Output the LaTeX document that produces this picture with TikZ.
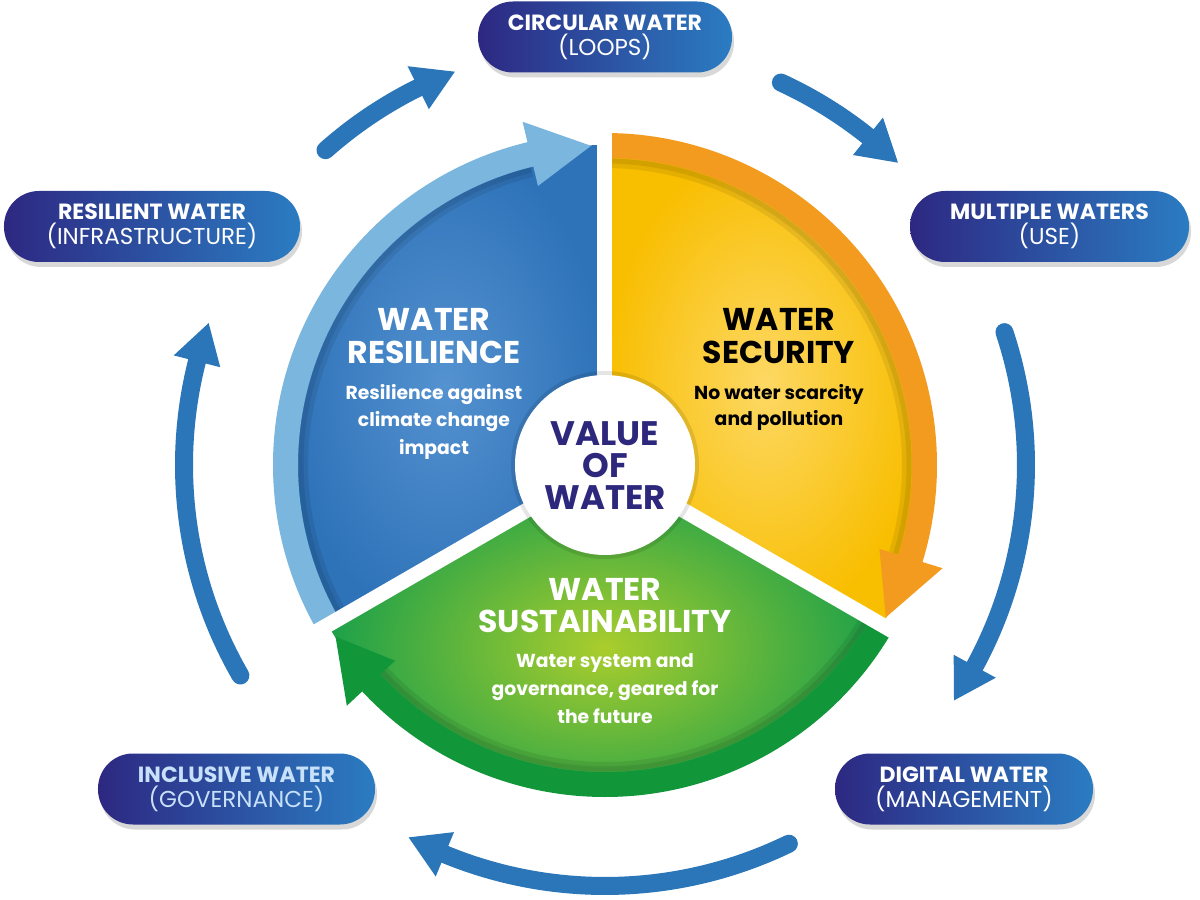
\documentclass[tikz,border=0pt]{standalone}
\usepackage{fontspec}
\setmainfont{Poppins}
\usetikzlibrary{shadows}
\definecolor{pillL}{RGB}{45,40,130}
\definecolor{pillR}{RGB}{43,124,194}
\definecolor{cycblue}{RGB}{43,118,184}
\definecolor{bandblue}{RGB}{122,182,222}
\definecolor{bandorange}{RGB}{243,155,30}
\definecolor{bandgreen}{RGB}{18,150,58}
\definecolor{blueout}{RGB}{46,114,184}
\definecolor{bluein}{RGB}{84,146,208}
\definecolor{yelout}{RGB}{248,190,0}
\definecolor{yelin}{RGB}{253,216,100}
\definecolor{grnout}{RGB}{28,160,74}
\definecolor{grnin}{RGB}{170,205,45}
\definecolor{centertext}{RGB}{46,40,125}
\definecolor{incltext}{RGB}{200,225,250}
\begin{document}
\begin{tikzpicture}[x=1pt,y=1pt,
  pill/.style={rounded corners=35pt, minimum height=71pt, inner sep=0pt,
    left color=pillL, right color=pillR, draw=none, text=white, align=center,
    font=\fontsize{22}{25}\selectfont,
    drop shadow={shadow xshift=2pt,shadow yshift=-5pt,opacity=0.3}},
  cyc/.style={draw=cycblue, line width=18pt, line cap=round},
  cychead/.style={fill=cycblue},
  band/.style={line width=25pt},
  bandshadow/.style={line width=10pt, draw=black, opacity=0.08},
  bandshadowB/.style={line width=5pt, draw=black, opacity=0.08},
  gap/.style={draw=white, line width=15pt},
  seghead/.style={font=\fontsize{31.5}{31.5}\selectfont\bfseries, anchor=base},
  segbody/.style={font=\fontsize{18.8}{18.8}\selectfont\bfseries, anchor=base},
  centre/.style={font=\fontsize{34}{34}\selectfont\bfseries, anchor=base, text=centertext}
]
\useasboundingbox (-605,-435) rectangle (595,465);
\fill[white] (-605,-435) rectangle (595,465);

% ---- segments
\shade[inner color=bluein, outer color=blueout] (0,0) -- (90:320) arc[start angle=90,end angle=210,radius=320] -- cycle;
\shade[inner color=yelin, outer color=yelout] (0,0) -- (90:320) arc[start angle=90,end angle=-30,radius=320] -- cycle;
\shade[inner color=grnin, outer color=grnout] (0,0) -- (210:320) arc[start angle=210,end angle=330,radius=320] -- cycle;

% ---- band shadows
\draw[bandshadow] (210:302) arc[start angle=210,end angle=104,radius=302];
\draw[bandshadowB] (210:304) arc[start angle=210,end angle=104,radius=304];
\draw[bandshadow] (90:302) arc[start angle=90,end angle=-17,radius=302];
\draw[bandshadowB] (90:304) arc[start angle=90,end angle=-17,radius=304];
\draw[bandshadow] (330:302) arc[start angle=330,end angle=223,radius=302];
\draw[bandshadowB] (330:304) arc[start angle=330,end angle=223,radius=304];

% ---- bands with heads
\draw[band, bandblue] (210:319.5) arc[start angle=210,end angle=102.5,radius=319.5];
\fill[bandblue] (103.5:287) -- (92.5:319.5) -- (103.5:353) -- cycle;
\draw[band, bandorange] (90:319.5) arc[start angle=90,end angle=-18,radius=319.5];
\fill[bandorange] (-17:287) -- (-28.5:319.5) -- (-17:353) -- cycle;
\draw[band, bandgreen] (330:319.5) arc[start angle=330,end angle=222,radius=319.5];
\fill[bandgreen] (223:287) -- (212.5:319.5) -- (223:353) -- cycle;

% ---- gaps and centre
\draw[gap] (0,0) -- (90:345);
\draw[gap] (0,0) -- (210:345);
\draw[gap] (0,0) -- (330:345);
\fill[black, opacity=0.10] (0,0) circle (94);
\fill[white] (0,0) circle (90);

% ---- segment texts
\node[seghead, text=white] (resA) at (-171,134) {WATER};
\node[seghead, text=white] (resB) at (-171,102) {RESILIENCE};
\node[segbody, text=white] (resC) at (-171,65.5) {Resilience against};
\node[segbody, text=white] (resD) at (-171,38.5) {climate change};
\node[segbody, text=white] (resE) at (-171,10.5) {impact};

\node[seghead, text=black] (secA) at (174,134) {WATER};
\node[seghead, text=black] (secB) at (174,102) {SECURITY};
\node[segbody, text=black] (secC) at (174,65.5) {No water scarcity};
\node[segbody, text=black] (secD) at (174,39.5) {and pollution};

\node[seghead, text=white] (susA) at (0,-135) {WATER};
\node[seghead, text=white] (susB) at (0,-167) {SUSTAINABILITY};
\node[segbody, text=white] (susC) at (0,-202.5) {Water system and};
\node[segbody, text=white] (susD) at (0,-230.5) {governance, geared for};
\node[segbody, text=white] (susE) at (0,-258.5) {the future};

\node[centre] (valA) at (0,20) {VALUE};
\node[centre] (valB) at (0,-12) {OF};
\node[centre] (valC) at (0,-44) {WATER};

% ---- pills
\node[pill, minimum width=254pt] (circ) at (0,428) {\textbf{CIRCULAR WATER}\\{\fontsize{23}{25}\selectfont (LOOPS)}};
\node[pill, minimum width=279pt] (mult) at (444.5,238.5) {\textbf{MULTIPLE WATERS}\\{\fontsize{23}{25}\selectfont (USE)}};
\node[pill, minimum width=296pt] (resi) at (-453,238.5) {\textbf{RESILIENT WATER}\\{\fontsize{23}{25}\selectfont (INFRASTRUCTURE)}};
\node[pill, minimum width=277pt, text=incltext] (incl) at (-368.5,-324) {\textbf{INCLUSIVE WATER}\\{\fontsize{23}{25}\selectfont (GOVERNANCE)}};
\node[pill, minimum width=258pt] (digi) at (359,-324) {\textbf{DIGITAL WATER}\\{\fontsize{23}{25}\selectfont (MANAGEMENT)}};

% ---- outer cycle arrows
\coordinate (a1s) at (131.6:421); \coordinate (a1t) at (110.9:421);
\draw[cyc] (a1s) arc[start angle=131.6,end angle=115.3,radius=421];
\fill[cychead] (116.34:397) -- (a1t) -- (116.34:445) -- cycle;

\coordinate (a2s) at (65.3:421); \coordinate (a2t) at (45.9:421);
\draw[cyc] (a2s) arc[start angle=65.3,end angle=50.3,radius=421];
\fill[cychead] (51.34:397) -- (a2t) -- (51.34:445) -- cycle;

\coordinate (a3s) at (18.4:421); \coordinate (a3t) at (-34:421);
\draw[cyc] (a3s) arc[start angle=18.4,end angle=-29.6,radius=421];
\fill[cychead] (-28.56:397) -- (a3t) -- (-28.56:445) -- cycle;

\coordinate (a4s) at (-64.1:421); \coordinate (a4t) at (-117.8:421);
\draw[cyc] (a4s) arc[start angle=-64.1,end angle=-113.4,radius=421];
\fill[cychead] (-112.36:397) -- (a4t) -- (-112.36:445) -- cycle;

\coordinate (a5s) at (210:421); \coordinate (a5t) at (160.3:421);
\draw[cyc] (a5s) arc[start angle=210,end angle=164.7,radius=421];
\fill[cychead] (165.74:397) -- (a5t) -- (165.74:445) -- cycle;
\end{tikzpicture}
\end{document}
